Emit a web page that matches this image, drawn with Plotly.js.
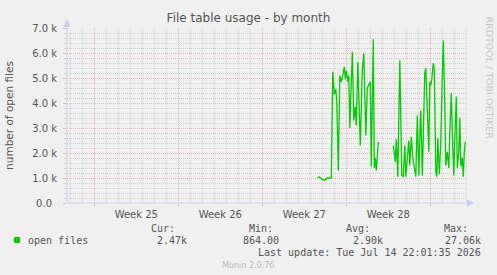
<!DOCTYPE html>
<html><head><meta charset="utf-8">
<script src="https://cdn.plot.ly/plotly-3.0.1.min.js"></script>
<style>html,body{margin:0;padding:0;background:#F0F0F0;overflow:hidden;} #chart{width:497px;height:275px;}</style>
</head><body><div id="chart"></div>
<script>
// ---- data ----
const chartTitle = 'File table usage - by month';
const yTitle = 'number of open files';
const seriesName = 'open files';
const weekStart = Date.UTC(2026, 5, 15); // Monday of Week 25
// sample times, hours after weekStart (null value = gap in data)
const sampleHours = [
  447,450,453,457,463,465,474,477,480,483,485,488,491,494,496,498,500,502,504,507,
  509,511,516,519,522,524,527,532,536,539,543,546,549,552,554,558,560,562,564,568,
  583,
  598,600,602,604,607,611,615,618,621,623,626,629,631,634,637,639,643,646,649,652,
  653,656,658,661,663,666,669,671,673,675,678,680,683,685,687,690,693,696,698,701,
  703,706,709,711,714,716,719,721,724,726,729,731,733,736,738,740,742
];
// open files, thousands
const openFilesK = [
  1.00,1.05,1.00,0.93,0.93,1.00,1.00,5.25,4.35,4.55,4.05,1.30,5.10,4.85,5.00,5.20,5.45,4.95,5.30,4.85,
  5.10,3.00,6.05,3.30,3.85,3.10,5.65,2.30,5.30,6.00,2.70,4.60,4.70,4.85,1.45,6.55,1.40,1.80,1.30,2.45,
  null,
  2.30,1.80,1.65,2.55,1.05,5.70,1.10,1.05,2.30,1.05,1.90,2.50,1.50,2.65,1.80,1.50,1.05,3.50,1.10,3.30,
  3.70,1.10,3.20,5.20,5.40,4.05,2.05,4.85,4.70,4.95,5.60,5.35,1.25,1.05,2.60,1.15,2.45,5.10,6.50,3.90,
  1.50,2.05,1.40,2.85,4.40,2.85,1.10,2.60,4.25,1.40,2.05,3.40,1.45,1.80,1.05,2.05,2.45
];
const xRangeHours = [-54.6, 745.4];
const weekTickDates = ['2026-06-15','2026-06-22','2026-06-29','2026-07-06','2026-07-13'];
const weekTickLabels = ['Week 25','Week 26','Week 27','Week 28',''];
const yTickVals = [0,1,2,3,4,5,6,7];
const yTickText = ['0.0\u2002','1.0 k','2.0 k','3.0 k','4.0 k','5.0 k','6.0 k','7.0 k'];
const statHeaders = ['Cur:','Min:','Avg:','Max:'];
const statValues = ['2.47k','864.00','2.90k','27.06k'];
const lastUpdate = 'Last update: Tue Jul 14 22:01:35 2026';
const footer = 'Munin 2.0.76';
const sideText = 'RRDTOOL / TOBI OETIKER';

// ---- helpers ----
const toDate = h => new Date(weekStart + h*3600e3).toISOString().replace('T',' ').slice(0,19);
const L = 67, R = 467, T = 28, B = 203, W = 497, H = 275;
const px = x => (x - L) / (R - L);
const py = y => (B - y) / (B - T);
const textCol = '#555555';
const axisCol = '#C8CCF4';
const mgrid = '#EBB4B4';
const grid = '#D0D0D0';
const pxPerDay = (R - L) / ((xRangeHours[1] - xRangeHours[0]) / 24);

const trace = {
  type: 'scatter', mode: 'lines', name: seriesName,
  x: sampleHours.map(toDate), y: openFilesK,
  line: {color: '#00CC00', width: 1.3}, connectgaps: false, showlegend: false
};

const mono = {family: 'DejaVu Sans Mono', size: 10, color: textCol};
const headX = [177, 275, 372, 470];
const valX = [189, 281, 385, 483];
const annotations = [];
statHeaders.forEach((t,i) => annotations.push({xref:'paper', yref:'paper', x:px(headX[i]), y:py(228), text:t, showarrow:false, xanchor:'right', yanchor:'middle', font:mono}));
statValues.forEach((t,i) => annotations.push({xref:'paper', yref:'paper', x:px(valX[i]), y:py(240), text:t, showarrow:false, xanchor:'right', yanchor:'middle', font:mono}));
annotations.push({xref:'paper', yref:'paper', x:px(26), y:py(240), text:seriesName, showarrow:false, xanchor:'left', yanchor:'middle', font:mono});
annotations.push({xref:'paper', yref:'paper', x:px(483), y:py(252), text:lastUpdate, showarrow:false, xanchor:'right', yanchor:'middle', font:mono});
annotations.push({xref:'paper', yref:'paper', x:px(248), y:py(265), text:footer, showarrow:false, xanchor:'center', yanchor:'middle', font:{family:'DejaVu Sans', size:8, color:'#BBBBBB'}});
annotations.push({xref:'paper', yref:'paper', x:px(489), y:py(14), text:sideText, showarrow:false, textangle:90, xanchor:'center', yanchor:'top', font:{family:'DejaVu Sans', size:9.5, color:'#C8C8C8'}});

const shapes = [];
// daily grid lines (midnights that are not week boundaries)
for (let d = Math.ceil(xRangeHours[0] / 24); d * 24 <= xRangeHours[1]; d++) {
  if (d % 7 === 0) continue;
  const t = toDate(d * 24);
  shapes.push({type:'line', layer:'below', xref:'x', yref:'paper', x0:t, x1:t, y0:0, y1:1,
               line:{color:grid, width:1, dash:'1px,1px'}});
}
shapes.push(
  {type:'line', xref:'paper', yref:'paper', x0:0, x1:0, y0:0, y1:py(22), line:{color:axisCol, width:1}},
  {type:'path', xref:'paper', yref:'paper', path:`M ${px(67)} ${py(19)} L ${px(63.5)} ${py(27)} L ${px(70.5)} ${py(27)} Z`, fillcolor:axisCol, line:{width:0}},
  {type:'line', xref:'paper', yref:'paper', x0:0, x1:px(470), y0:0, y1:0, line:{color:axisCol, width:1}},
  {type:'path', xref:'paper', yref:'paper', path:`M ${px(474)} ${py(203)} L ${px(467)} ${py(199.5)} L ${px(467)} ${py(206.5)} Z`, fillcolor:axisCol, line:{width:0}},
  {type:'rect', xref:'paper', yref:'paper', x0:px(14), x1:px(20), y0:py(237), y1:py(243), fillcolor:'#00CC00', line:{width:0}}
);

const layout = {
  width: W, height: H,
  margin: {l: L, r: W - R, t: T, b: H - B, pad: 0},
  paper_bgcolor: '#F0F0F0', plot_bgcolor: '#F0F0F0',
  font: {family: 'DejaVu Sans', size: 10, color: textCol},
  title: {text: chartTitle, x: 0.5, xanchor: 'center', y: 1 - 18/H, yanchor: 'middle', yref: 'container',
          font: {family: 'DejaVu Sans', size: 12, color: textCol}},
  xaxis: {
    type: 'date', range: xRangeHours.map(toDate), fixedrange: true,
    tickmode: 'array', tickvals: weekTickDates, ticktext: weekTickLabels,
    ticklabelshift: pxPerDay * 3.5,
    showgrid: true, gridcolor: mgrid, griddash: '1px,1px', gridwidth: 1,
    ticks: 'outside', ticklen: 2, tickcolor: mgrid,
    showline: false, zeroline: false, tickfont: {family:'DejaVu Sans', size: 10, color: textCol}
  },
  yaxis: {
    range: [0, 7], fixedrange: true,
    tickvals: yTickVals, ticktext: yTickText,
    showgrid: true, gridcolor: mgrid, griddash: '1px,1px', gridwidth: 1,
    minor: {tickmode: 'linear', tick0: 0, dtick: 0.2, showgrid: true, gridcolor: grid, griddash: '1px,1px', gridwidth: 1, ticks: 'outside', ticklen: 2, tickcolor: grid},
    ticks: 'outside', ticklen: 3, tickcolor: mgrid, ticklabelstandoff: 4,
    showline: false, zeroline: false,
    tickfont: {family:'DejaVu Sans', size: 10, color: textCol},
    title: {text: yTitle, standoff: 16, font: {family:'DejaVu Sans', size: 10.5, color: textCol}}
  },
  showlegend: false,
  annotations, shapes
};

Plotly.newPlot('chart', [trace], layout, {staticPlot: true, displayModeBar: false});
</script>
</body></html>
